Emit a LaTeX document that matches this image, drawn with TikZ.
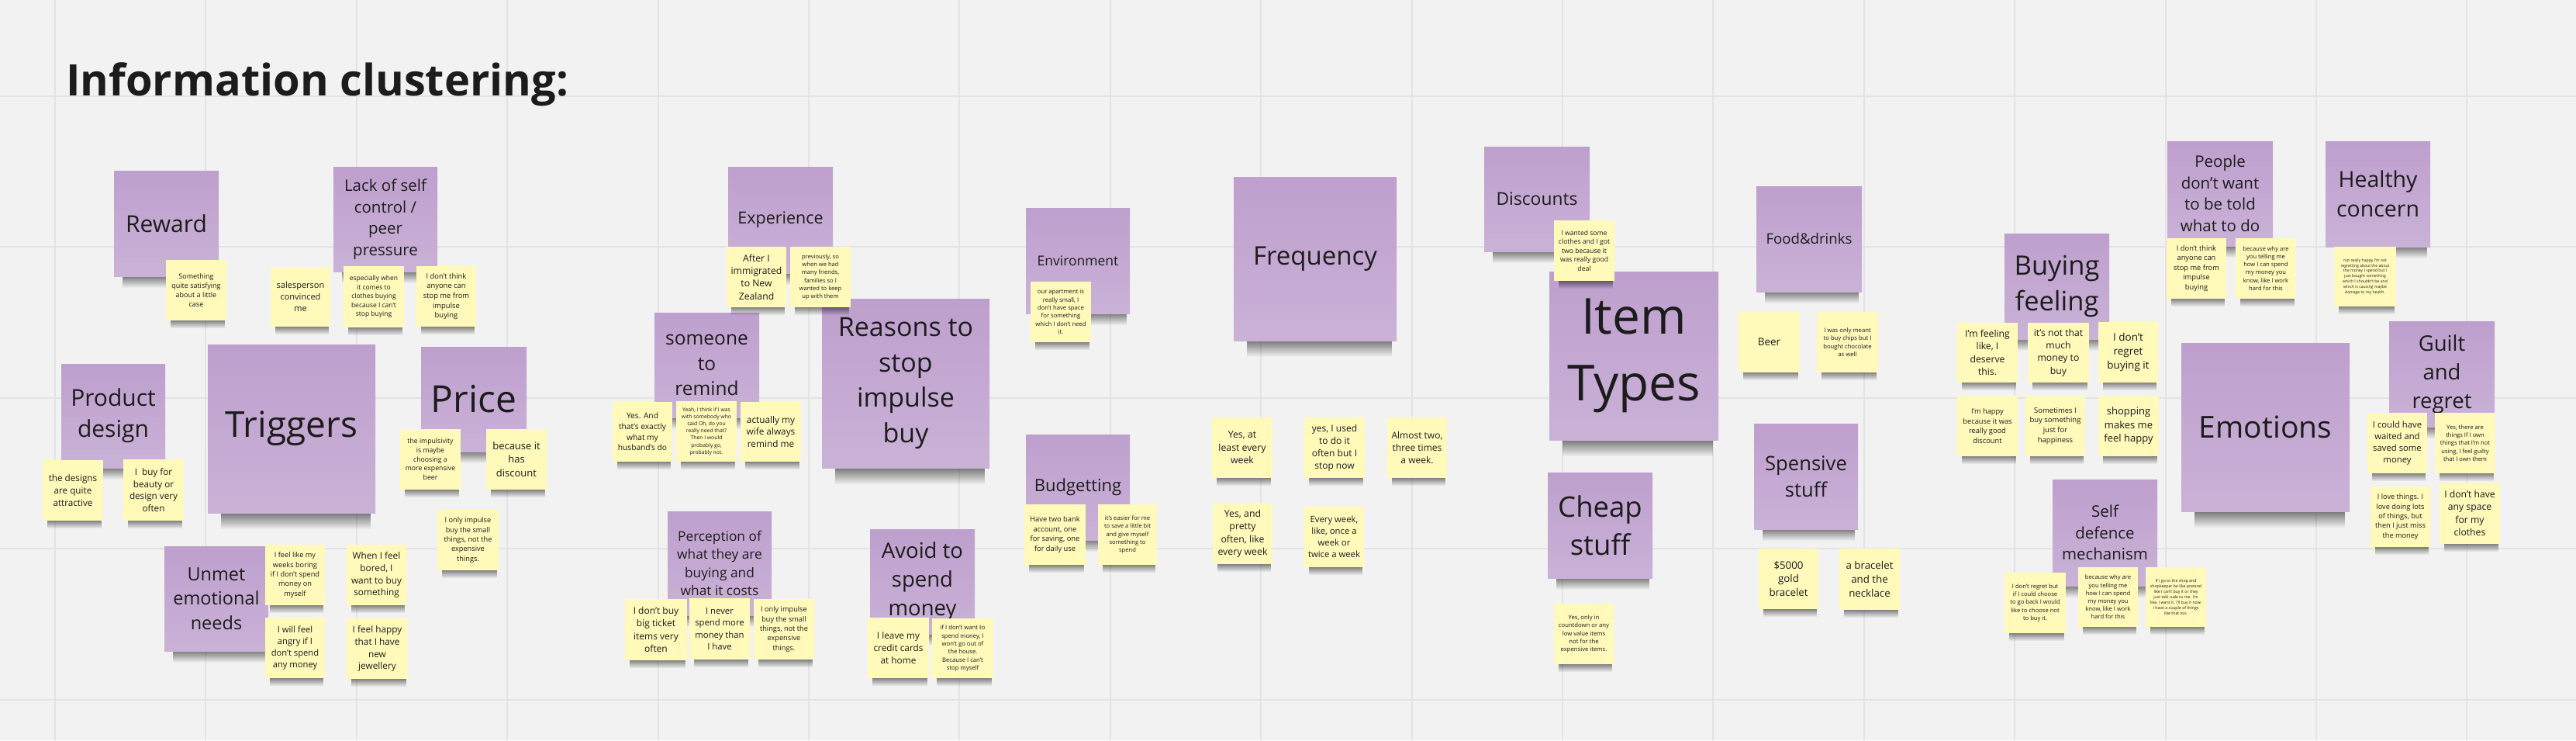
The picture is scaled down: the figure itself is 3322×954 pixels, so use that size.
\documentclass[tikz,border=0pt]{standalone}
\usepackage{fontspec}
\setmainfont{Open Sans}
\usetikzlibrary{fadings}
\definecolor{bg}{HTML}{F2F2F2}
\definecolor{gridc}{HTML}{E3E3E3}
\definecolor{purtop}{HTML}{BE9FCD}
\definecolor{purbot}{HTML}{CAB2D7}
\definecolor{yel}{HTML}{FFF9BA}
\definecolor{ink}{HTML}{1C1C1C}
\tikzfading[name=shadowfade, top color=transparent!0, middle color=transparent!45, bottom color=transparent!100]
\tikzset{
  purplenote/.style={rectangle, inner sep=0pt, top color=purtop, bottom color=purbot, draw=none, align=center, text=ink},
  yellownote/.style={rectangle, inner sep=0pt, fill=yel, draw=none, align=center, text=ink},
  shadowfill/.style={fill=black, fill opacity=0.55, path fading=shadowfade},
  gridline/.style={draw=gridc, line width=2pt},
  titlestyle/.style={inner sep=0pt, text=ink, font=\fontsize{56}{60}\selectfont\bfseries}
}
\newcommand{\sticky}[8]{%
  \pgfmathsetmacro{\sw}{#5-#3}%
  \pgfmathsetmacro{\shh}{#6-#4}%
  \pgfmathsetmacro{\cx}{(#3+#5)/2}%
  \pgfmathsetmacro{\cy}{(#4+#6)/2}%
  \pgfmathsetmacro{\lh}{1.34*#7}%
  \fill[shadowfill] ({#3+0.08*\sw},{#6-2}) rectangle ({#5-0.03*\sw},{#6+4+0.08*\shh});
  \node[#1, minimum width=\sw pt, minimum height=\shh pt, font=\fontsize{#7}{\lh}\selectfont] (#2) at (\cx,\cy) {#8};
}
\begin{document}
\begin{tikzpicture}[x=1pt,y=-1pt]
\useasboundingbox (0,0) rectangle (3322,954);
\fill[bg] (0,0) rectangle (3322,954);
\foreach \k in {0,...,16} \draw[gridline] ({71+194.4*\k},0) -- ({71+194.4*\k},954);
\foreach \yy in {124,318,513,707,902} \draw[gridline] (0,\yy) -- (3322,\yy);
\node[titlestyle, anchor=base west] (title) at (85,123) {Information clustering:};
% purple headers
\sticky{purplenote}{reward}{147}{220}{282}{356}{30}{Reward}
\sticky{purplenote}{lack}{430}{215}{564}{350}{20.5}{Lack of self\\control /\\peer\\pressure}
\sticky{purplenote}{product}{79}{469}{213}{603}{30}{Product\\design}
\sticky{purplenote}{triggers}{268}{444}{484}{661}{46}{Triggers}
\sticky{purplenote}{price}{543}{447}{679}{582}{48}{Price}
\sticky{purplenote}{unmet}{212}{704}{346}{839}{23.5}{Unmet\\emotional\\needs}
\sticky{purplenote}{experience}{939}{215}{1074}{352}{21.5}{Experience}
\sticky{purplenote}{remind}{844}{403}{979}{538}{24.5}{someone\\to\\remind}
\sticky{purplenote}{reasons}{1060}{385}{1276}{603}{34}{Reasons to\\stop\\impulse\\buy}
\sticky{purplenote}{perception}{861}{659}{995}{793}{17.3}{Perception of\\what they are\\buying and\\what it costs}
\sticky{purplenote}{environment}{1323}{268}{1457}{404}{17.5}{Environment}
\sticky{purplenote}{budgetting}{1323}{560}{1457}{696}{22}{Budgetting}
\sticky{purplenote}{avoid}{1122}{682}{1257}{817}{27.5}{Avoid to\\spend\\money}
\sticky{purplenote}{frequency}{1591}{228}{1801}{439}{33}{Frequency}
\sticky{purplenote}{discounts}{1914}{189}{2050}{324}{22.8}{Discounts}
\sticky{purplenote}{itemtypes}{1998}{350}{2216}{567}{64}{Item\\Types}
\sticky{purplenote}{cheap}{1996}{609}{2131}{745}{36.5}{Cheap\\stuff}
\sticky{purplenote}{food}{2265}{240}{2401}{376}{18.6}{Food\&drinks}
\sticky{purplenote}{spensive}{2262}{546}{2396}{682}{25.6}{Spensive\\stuff}
\sticky{purplenote}{buying}{2585}{301}{2720}{437}{34.5}{Buying\\feeling}
\sticky{purplenote}{selfdef}{2647}{618}{2782}{755}{20.5}{Self\\defence\\mechanism}
\sticky{purplenote}{people}{2795}{182}{2931}{317}{20.5}{People\\don't want\\to be told\\what to do}
\sticky{purplenote}{healthy}{2999}{182}{3134}{318}{28.5}{Healthy\\concern}
\sticky{purplenote}{emotions}{2813}{442}{3030}{659}{39}{Emotions}
\sticky{purplenote}{guilt}{3081}{414}{3217}{550}{27.5}{Guilt\\and\\regret}
% yellow notes
\sticky{yellownote}{satisfy}{214}{335}{292}{413}{9}{Something\\quite satisfying\\about a little\\case}
\sticky{yellownote}{salesperson}{349}{344}{426}{421}{11}{salesperson\\convinced\\me}
\sticky{yellownote}{especially}{443}{343}{521}{422}{8.5}{especially when\\it comes to\\clothes buying\\because I can't\\stop buying}
\sticky{yellownote}{nothinka}{537}{343}{614}{421}{9.4}{I don't think\\anyone can\\stop me from\\impulse\\buying}
\sticky{yellownote}{designs}{55}{593}{133}{671}{11.7}{the designs\\are quite\\attractive}
\sticky{yellownote}{beauty}{159}{592}{237}{671}{11.7}{I\ \ buy for\\beauty or\\design very\\often}
\sticky{yellownote}{impulsivity}{516}{553}{594}{631}{8.7}{the impulsivity\\is maybe\\choosing a\\more expensive\\beer}
\sticky{yellownote}{hasdiscount}{627}{553}{705}{631}{13}{because it\\has\\discount}
\sticky{yellownote}{smalla}{564}{657}{643}{735}{9.2}{I only impulse\\buy the small\\things, not the\\expensive\\things.}
\sticky{yellownote}{weeks}{342}{702}{419}{780}{9.2}{I feel like my\\weeks boring\\if I don't spend\\money on\\myself}
\sticky{yellownote}{bored}{447}{702}{524}{780}{11.8}{When I feel\\bored, I\\want to buy\\something}
\sticky{yellownote}{angry}{342}{796}{419}{874}{11.2}{I will feel\\angry if I\\don't spend\\any money}
\sticky{yellownote}{jewel}{447}{797}{526}{875}{11.8}{I feel happy\\that I have\\new\\jewellery}
\sticky{yellownote}{immigrated}{937}{318}{1014}{396}{12.2}{After I\\immigrated\\to New\\Zealand}
\sticky{yellownote}{previously}{1019}{318}{1097}{396}{7.6}{previously, so\\when we had\\many friends,\\families so I\\wanted to keep\\up with them}
\sticky{yellownote}{husband}{790}{518}{867}{595}{10.2}{Yes. And\\that's exactly\\what my\\husband's do}
\sticky{yellownote}{yeah}{872}{517}{950}{595}{6.8}{Yeah, I think if I was\\with somebody who\\said Oh, do you\\really need that?\\Then I would\\probably go,\\probably not.}
\sticky{yellownote}{wife}{955}{518}{1033}{595}{11.8}{actually my\\wife always\\remind me}
\sticky{yellownote}{bigticket}{806}{772}{886}{851}{12}{I don't buy\\big ticket\\items very\\often}
\sticky{yellownote}{never}{889}{771}{967}{850}{11.3}{I never\\spend more\\money than\\I have}
\sticky{yellownote}{smallb}{972}{772}{1050}{850}{9.2}{I only impulse\\buy the small\\things, not the\\expensive\\things.}
\sticky{yellownote}{apartment}{1329}{363}{1407}{441}{7.7}{our apartment is\\really small, I\\don't have space\\for something\\which I don't need\\it.}
\sticky{yellownote}{twobank}{1321}{650}{1400}{728}{9.3}{Have two bank\\account, one\\for saving, one\\for daily use}
\sticky{yellownote}{easier}{1416}{650}{1492}{728}{7.6}{it's easier for me\\to save a little bit\\and give myself\\something to\\spend}
\sticky{yellownote}{credit}{1119}{796}{1198}{874}{11.8}{I leave my\\credit cards\\at home}
\sticky{yellownote}{wontgo}{1202}{797}{1281}{874}{7.7}{if I don't want to\\spend money, I\\won't go out of\\the house.\\Because I can't\\stop myself}
\sticky{yellownote}{atleast}{1563}{538}{1641}{616}{12.3}{Yes, at\\least every\\week}
\sticky{yellownote}{pretty}{1564}{649}{1641}{727}{12.3}{Yes, and\\pretty\\often, like\\every week}
\sticky{yellownote}{usedto}{1682}{538}{1760}{616}{12}{yes, I used\\to do it\\often but I\\stop now}
\sticky{yellownote}{almost}{1789}{538}{1866}{616}{12}{Almost two,\\three times\\a week.}
\sticky{yellownote}{everyweek}{1682}{653}{1759}{731}{11.3}{Every week,\\like, once a\\week or\\twice a week}
\sticky{yellownote}{wanted}{2004}{284}{2082}{362}{8.6}{I wanted some\\clothes and I got\\two because it\\was really good\\deal}
\sticky{yellownote}{countdown}{2004}{778}{2081}{856}{7.7}{Yes, only in\\countdown or any\\low value items\\not for the\\expensive items.}
\sticky{yellownote}{beer}{2242}{402}{2321}{480}{13.5}{Beer}
\sticky{yellownote}{chips}{2343}{402}{2422}{480}{7.7}{I was only meant\\to buy chips but I\\bought chocolate\\as well}
\sticky{yellownote}{deserve}{2524}{416}{2602}{493}{12.2}{I'm feeling\\like, I\\deserve\\this.}
\sticky{yellownote}{notmuch}{2615}{416}{2694}{493}{12.2}{it's not that\\much\\money to\\buy}
\sticky{yellownote}{noregret}{2706}{415}{2783}{493}{13.5}{I don't\\regret\\buying it}
\sticky{yellownote}{happydisc}{2524}{510}{2602}{588}{9.3}{I'm happy\\because it was\\really good\\discount}
\sticky{yellownote}{sometimes}{2612}{510}{2689}{588}{9.5}{Sometimes I\\buy something\\just for\\happiness}
\sticky{yellownote}{shopping}{2706}{510}{2784}{588}{13}{shopping\\makes me\\feel happy}
\sticky{yellownote}{gold}{2268}{707}{2345}{785}{13.3}{\$5000\\gold\\bracelet}
\sticky{yellownote}{necklace}{2372}{707}{2450}{786}{13.3}{a bracelet\\and the\\necklace}
\sticky{yellownote}{goback}{2585}{738}{2664}{816}{7.6}{I don't regret but\\if I could choose\\to go back I would\\like to choose not\\to buy it.}
\sticky{yellownote}{whytellb}{2680}{731}{2757}{808}{7.6}{because why are\\you telling me\\how I can spend\\my money you\\know, like I work\\hard for this}
\sticky{yellownote}{shop}{2767}{731}{2845}{808}{5.2}{If I go to the shop and\\shopkeeper be like pretend\\like I can't buy it or they\\just talk rude to me. I'm\\like, I want it. I'll buy it now.\\I have a couple of things\\like that too.}
\sticky{yellownote}{nothinkb}{2794}{307}{2871}{385}{9.3}{I don't think\\anyone can\\stop me from\\impulse\\buying}
\sticky{yellownote}{whytella}{2883}{307}{2961}{385}{7.6}{because why are\\you telling me\\how I can spend\\my money you\\know, like I work\\hard for this}
\sticky{yellownote}{health}{3010}{318}{3090}{395}{5.1}{not really happy I'm not\\regretting about the about\\the money I spend but I\\just bought something\\which I shouldn't be and\\which is causing maybe\\damage to my health.}
\sticky{yellownote}{waited}{3053}{532}{3130}{610}{11.3}{I could have\\waited and\\saved some\\money}
\sticky{yellownote}{guilty}{3140}{532}{3218}{610}{7.6}{Yes, there are\\things If I own\\things that I'm not\\using, I feel guilty\\that I own them}
\sticky{yellownote}{lovethings}{3057}{627}{3134}{705}{9.2}{I love things. I\\love doing lots\\of things, but\\then I just miss\\the money}
\sticky{yellownote}{nospace}{3146}{622}{3224}{701}{12.2}{I don't have\\any space\\for my\\clothes}
\end{tikzpicture}
\end{document}
